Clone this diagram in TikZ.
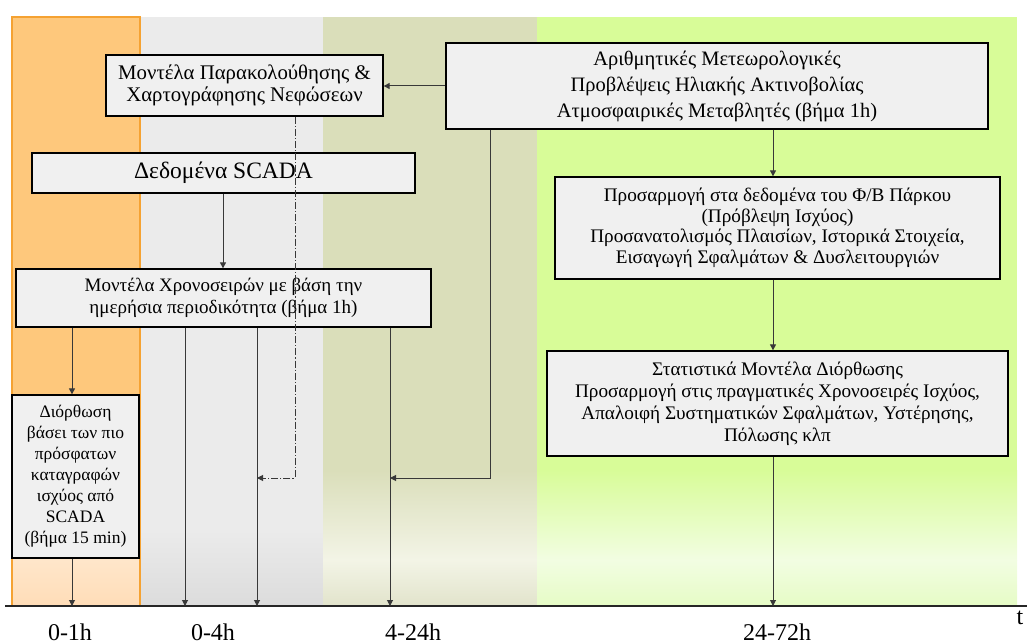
\documentclass[tikz,border=0pt]{standalone}
\usepackage{fontspec}
\setmainfont{Liberation Serif}
\usetikzlibrary{arrows.meta}
\definecolor{orangeA}{HTML}{FEC87C}
\definecolor{orangeL}{HTML}{FFE6CA}
\definecolor{orangeB}{HTML}{FFDDB8}
\definecolor{orangeEdge}{HTML}{F5A232}
\definecolor{grayA}{HTML}{EBEBEB}
\definecolor{grayB}{HTML}{DCDCDC}
\definecolor{oliveA}{HTML}{DADEBA}
\definecolor{oliveL}{HTML}{F3F4E6}
\definecolor{oliveB}{HTML}{E2E4CC}
\definecolor{greenA}{HTML}{D8FC98}
\definecolor{greenL}{HTML}{F2FDE2}
\definecolor{greenB}{HTML}{E6FCC6}
\definecolor{boxfill}{HTML}{F0F0F0}
\definecolor{linegray}{HTML}{383838}
\begin{document}
\begin{tikzpicture}[x=1pt,y=-1pt,
  box/.style={draw=black,line width=1.3pt,fill=boxfill,align=center,inner sep=0pt,text=black},
  conn/.style={draw=linegray,line width=1pt,-{Triangle[width=6pt,length=6pt]}},
  dashconn/.style={conn,dash pattern=on 7pt off 2pt on 1.2pt off 2pt},
  axlabel/.style={font=\fontsize{24}{26}\selectfont,inner sep=0pt}]
\useasboundingbox (0,0) rectangle (1027,644);
% bands
\fill[orangeA] (12,17) rectangle (140,470);
\shade[top color=orangeA,bottom color=orangeL] (12,470) rectangle (140,560);
\shade[top color=orangeL,bottom color=orangeB] (12,560) rectangle (140,605);
\fill[grayA] (140,17) rectangle (323,530);
\shade[top color=grayA,bottom color=grayB] (140,530) rectangle (323,605);
\fill[oliveA] (323,17) rectangle (537,470);
\shade[top color=oliveA,bottom color=oliveL] (323,470) rectangle (537,560);
\shade[top color=oliveL,bottom color=oliveB] (323,560) rectangle (537,605);
\fill[greenA] (537,17) rectangle (1017,470);
\shade[top color=greenA,bottom color=greenL] (537,470) rectangle (1017,560);
\shade[top color=greenL,bottom color=greenB] (537,560) rectangle (1017,605);
\draw[orangeEdge,line width=1.3pt] (12,605) -- (12,17) -- (140,17) -- (140,605);
% axis
\coordinate (axL) at (5,606);
\coordinate (axR) at (1027,606);
\draw[line width=2.8pt,black!85] (axL) -- (axR);
% columns
\coordinate (c72) at (72,0);
\coordinate (c185) at (185,0);
\coordinate (c223) at (223,0);
\coordinate (c257) at (257,0);
\coordinate (c295) at (295,0);
\coordinate (c390) at (390,0);
\coordinate (c490) at (490,0);
\coordinate (c773) at (773,0);
\coordinate (y478) at (0,478);
% boxes
\node[box,minimum width=277pt,minimum height=61pt,font=\fontsize{20.8}{22}\selectfont] (cloud) at (244.5,85.5)
  {Μοντέλα Παρακολούθησης \&\\Χαρτογράφησης Νεφώσεων};
\node[box,minimum width=542pt,minimum height=86pt,font=\fontsize{20.5}{26}\selectfont] (nwp) at (717,86)
  {Αριθμητικές Μετεωρολογικές\\Προβλέψεις Ηλιακής Ακτινοβολίας\\Ατμοσφαιρικές Μεταβλητές (βήμα 1h)};
\node[box,minimum width=383pt,minimum height=40pt,font=\fontsize{23.5}{26}\selectfont] (scada) at (223.5,173)
  {Δεδομένα SCADA};
\node[box,minimum width=415pt,minimum height=58pt,font=\fontsize{19}{22}\selectfont] (ts) at (223.5,298)
  {Μοντέλα Χρονοσειρών με βάση την\\ημερήσια περιοδικότητα (βήμα 1h)};
\node[box,minimum width=127pt,minimum height=163pt,font=\fontsize{17.5}{21}\selectfont] (left) at (75.5,476.5)
  {Διόρθωση\\βάσει των πιο\\πρόσφατων\\καταγραφών\\ισχύος από\\SCADA\\(βήμα 15 min)};
\node[box,minimum width=445pt,minimum height=102pt,font=\fontsize{19.2}{20.5}\selectfont] (pv) at (777.5,228)
  {Προσαρμογή στα δεδομένα του Φ/Β Πάρκου\\(Πρόβλεψη Ισχύος)\\Προσανατολισμός Πλαισίων, Ιστορικά Στοιχεία,\\Εισαγωγή Σφαλμάτων \& Δυσλειτουργιών};
\node[box,minimum width=461pt,minimum height=105pt,font=\fontsize{19.2}{22}\selectfont] (stat) at (777.5,403.5)
  {Στατιστικά Μοντέλα Διόρθωσης\\Προσαρμογή στις πραγματικές Χρονοσειρές Ισχύος,\\Απαλοιφή Συστηματικών Σφαλμάτων, Υστέρησης,\\Πόλωσης κλπ};
% connectors
\draw[conn] (nwp.west) -- (nwp.west -| cloud.east);
\draw[conn] (nwp.south -| c773) -- (pv.north -| c773);
\draw[conn] (pv.south -| c773) -- (stat.north -| c773);
\draw[conn] (stat.south -| c773) -- (axL -| c773);
\draw[conn] (nwp.south -| c490) -- (c490 |- y478) -- (c390 |- y478);
\draw[conn] (scada.south -| c223) -- (ts.north -| c223);
\draw[dashconn] (cloud.south -| c295) -- (c295 |- y478) -- (c257 |- y478);
\draw[conn] (ts.south -| c72) -- (left.north -| c72);
\draw[conn] (left.south -| c72) -- (axL -| c72);
\draw[conn] (ts.south -| c185) -- (axL -| c185);
\draw[conn] (ts.south -| c257) -- (axL -| c257);
\draw[conn] (ts.south -| c390) -- (axL -| c390);
% axis labels
\node[axlabel] (l1) at (70,632) {0-1h};
\node[axlabel] (l2) at (213,632) {0-4h};
\node[axlabel] (l3) at (413,632) {4-24h};
\node[axlabel] (l4) at (777,632) {24-72h};
\node[axlabel] (lt) at (1020,618) {t};
\end{tikzpicture}
\end{document}
